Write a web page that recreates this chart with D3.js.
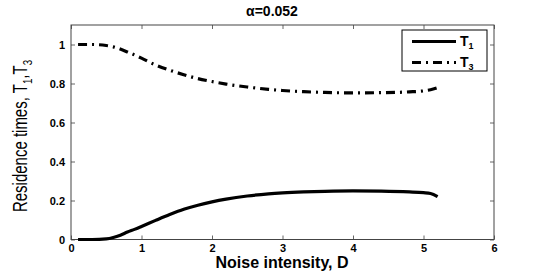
<!DOCTYPE html>
<html>
<head>
<meta charset="utf-8">
<script src="https://cdn.jsdelivr.net/npm/d3@7"></script>
<style>
  body { margin: 0; background: #fff; }
  svg { font-family: "Liberation Sans", Arial, sans-serif; }
  .tick text { font-weight: bold; font-size: 11px; fill: #000; }
</style>
</head>
<body>
<div id="chart"></div>
<script>
// values
const d_t1 = [0.1, 0.3, 0.5, 0.6, 0.7, 0.8, 0.9, 1.0, 1.2, 1.4, 1.6, 1.8, 2.0, 2.2, 2.5, 2.8, 3.0, 3.3, 3.6, 4.0, 4.4, 4.8, 5.0, 5.1, 5.2];
const t1   = [0, 0, 0.003, 0.01, 0.022, 0.038, 0.052, 0.067, 0.098, 0.128, 0.155, 0.176, 0.193, 0.207, 0.223, 0.234, 0.239, 0.244, 0.247, 0.249, 0.248, 0.244, 0.24, 0.236, 0.22];
const d_t3 = [0.1, 0.3, 0.5, 0.6, 0.8, 1.0, 1.2, 1.4, 1.6, 1.8, 2.0, 2.2, 2.5, 2.8, 3.0, 3.3, 3.6, 4.0, 4.4, 4.8, 5.0, 5.1, 5.2];
const t3   = [1.0, 1.0, 0.995, 0.988, 0.962, 0.93, 0.895, 0.868, 0.845, 0.825, 0.81, 0.797, 0.782, 0.77, 0.764, 0.758, 0.754, 0.752, 0.753, 0.757, 0.762, 0.768, 0.778];
const x_ticks = [0, 1, 2, 3, 4, 5, 6];
const y_ticks = [0, 0.2, 0.4, 0.6, 0.8, 1];
const series_names = ["T1", "T3"];

const margin = { top: 25, right: 51, bottom: 33.5, left: 71 };
const svg = d3.select("#chart").append("svg").attr("width", 545).attr("height", 273);
const width = 545 - margin.left - margin.right;
const height = 273 - margin.top - margin.bottom;
const canvas = svg.append("g").attr("transform", `translate(${margin.left},${margin.top})`);

const xScale = d3.scaleLinear().domain([0, 6]).range([0, width]);
const yScale = d3.scaleLinear().domain([0, 1.1]).range([height, 0]);

// axes with inward ticks on all sides
canvas.append("g").attr("transform", `translate(0,${height})`)
    .call(d3.axisBottom(xScale).tickValues(x_ticks).tickSizeInner(-4).tickSizeOuter(0).tickPadding(5).tickFormat(d3.format("d")));
canvas.append("g")
    .call(d3.axisTop(xScale).tickValues(x_ticks).tickSizeInner(-4).tickSizeOuter(0).tickFormat(""));
canvas.append("g")
    .call(d3.axisLeft(yScale).tickValues(y_ticks).tickSizeInner(-4).tickSizeOuter(0).tickPadding(6).tickFormat(d => d === 0 || d === 1 ? d3.format("d")(d) : d3.format(".1f")(d)));
canvas.append("g").attr("transform", `translate(${width},0)`)
    .call(d3.axisRight(yScale).tickValues(y_ticks).tickSizeInner(-4).tickSizeOuter(0).tickFormat(""));
canvas.selectAll(".domain").remove();
canvas.selectAll(".tick line").attr("stroke", "#666");
canvas.append("rect").attr("width", width).attr("height", height)
    .attr("fill", "none").attr("stroke", "#444").attr("stroke-width", 1);

const line = d3.line().x(d => xScale(d[0])).y(d => yScale(d[1])).curve(d3.curveMonotoneX);
const dash_dot = "9,5,2,5";

canvas.append("path").datum(d_t1.map((d, i) => [d, t1[i]]))
    .attr("d", line).attr("fill", "none").attr("stroke", "#000").attr("stroke-width", 3.2);
canvas.append("path").datum(d_t3.map((d, i) => [d, t3[i]]))
    .attr("d", line).attr("fill", "none").attr("stroke", "#000").attr("stroke-width", 3.2)
    .attr("stroke-dasharray", dash_dot);

// legend
const legend = svg.append("g").attr("transform", "translate(402,30)");
legend.append("rect").attr("width", 85).attr("height", 41)
    .attr("fill", "#fff").attr("stroke", "#000").attr("stroke-width", 1);
series_names.forEach(function (name, i) {
    const yy = 11.5 + i * 21;
    legend.append("line").attr("x1", 10).attr("x2", 54).attr("y1", yy).attr("y2", yy)
        .attr("stroke", "#000").attr("stroke-width", 3.2)
        .attr("stroke-dasharray", i === 1 ? dash_dot : null);
    const t = legend.append("text").attr("x", 58).attr("y", yy + 4)
        .style("font-size", "14px").style("font-weight", "bold").text("T");
    t.append("tspan").attr("dy", 3).style("font-size", "9px").text(name.slice(1));
});

// title and axis labels
svg.append("text").attr("x", 272).attr("y", 16).attr("text-anchor", "middle")
    .style("font-size", "14px").style("font-weight", "bold").text("α=0.052");
svg.append("text").attr("x", 282).attr("y", 268).attr("text-anchor", "middle")
    .style("font-size", "16px").style("font-weight", "bold").text("Noise intensity, D");

const ylab = svg.append("text")
    .attr("transform", "translate(27,136) rotate(-90) scale(0.75,1)")
    .attr("text-anchor", "middle")
    .style("font-size", "20px");
ylab.append("tspan").text("Residence times, T");
ylab.append("tspan").attr("dy", 5).style("font-size", "13px").text("1");
ylab.append("tspan").attr("dy", -5).text(",T");
ylab.append("tspan").attr("dy", 5).style("font-size", "13px").text("3");
</script>
</body>
</html>
